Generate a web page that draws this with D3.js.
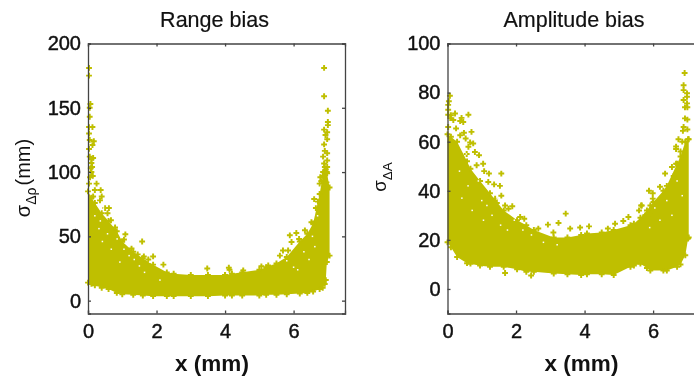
<!DOCTYPE html>
<html>
<head>
<meta charset="utf-8">
<script src="https://cdn.jsdelivr.net/npm/d3@7"></script>
<style>
  html, body { margin: 0; padding: 0; background: white; overflow: hidden; }
  svg { display: block; filter: blur(0.35px); }
  text { font-family: "Liberation Sans", Arial, sans-serif; fill: #111; }
</style>
</head>
<body>
<div id="chart"></div>
<script>
const xTicks = [0, 2, 4, 6];
const rangeTicks = [0, 50, 100, 150, 200];
const ampTicks = [0, 20, 40, 60, 80, 100];

//dense band of the left panel
const rangeBandX = [0, 0.1, 0.2, 0.4, 0.6, 0.84, 1, 1.32, 1.6, 1.9, 2.3, 2.5, 3, 3.5, 4, 4.2, 4.5, 5, 5.2, 5.5, 5.8, 6.18, 6.4, 6.57, 6.76, 6.85, 6.91, 6.94, 6.97, 7.05];
const rangeBandLow = [14, 13, 12, 10, 9, 6, 5, 4.5, 4, 3.5, 3.5, 3.5, 3.5, 3.5, 4, 4, 4, 4, 4.5, 4.5, 5, 5.5, 6, 7, 9, 10, 13, 16, 30, 35];
const rangeBandHigh = [85, 80, 76, 68, 62, 54, 46, 38, 33, 28, 22, 21, 20, 20, 20, 21, 22, 24, 26, 29, 34, 46, 52, 60, 83, 97, 104, 102, 100, 88];

//single points of the left panel
const rangeDotsX = [0.03, 0.03, 0.07, 0.05, 0.05, 0.03, 0.13, 0.03, 0.05, 0.17, 0.13, 0.03, 0.05, 0.15, 0.1, 0.1, 0.12, 0.08, 0.1, 0.14, 0.06,
  0.03, 0.25, 0.37, 0.2, 0.4, 0.15, 0.35, 0.5, 0.61, 0.57, 0.2, 0.67, 0.79, 1.09, 1.05, 1.58, 1.27, 1.9, 1.63, 1.76, 2.2, 3.48, 1.45,
  4.11, 4.13, 4, 4.53, 5.06, 5.26, 5.6, 5.69, 5.84, 5.89, 6.08, 5.94, 6.16, 6.33, 6.52, 6.6, 6.71, 6.65, 6.76, 6.91, 6.78,
  6.89, 6.89, 7, 7, 7, 6.89, 6.98, 6.93, 6.98, 6.89, 6.91, 6.98, 6.86, 6.98, 6.89, 6.98, 6.86, 6.98, 6.81, 6.96];
const rangeDotsY = [181, 175, 153, 150, 143, 135, 135, 130, 125, 124, 121, 118, 112, 111, 110, 107, 104, 103, 100, 97, 96,
  91, 91, 86, 86, 81, 81, 78, 72, 72, 68, 69, 62.5, 57, 51.6, 47.5, 46, 40.5, 34.4, 34.4, 32, 28, 25, 36,
  25.6, 24, 20, 23.5, 26.7, 27.4, 35, 39, 39, 50.8, 52.6, 45.6, 48, 54.7, 61, 79, 77, 72, 91, 100, 96,
  181, 159, 147.7, 139, 136.5, 133, 131, 128.8, 125.6, 121.5, 116.5, 114.7, 112, 109, 106.7, 104, 100, 99, 93, 92];

//white specks inside the left band
const rangeGapsX = [0.2, 0.32, 0.36, 0.42, 0.45, 0.57, 0.68, 0.75, 0.85, 0.93, 1.05, 1.2, 1.35, 1.5, 1.65, 1.8, 2.1, 5.8, 6.0, 6.12, 6.3, 6.45, 6.55, 6.62, 6.7];
const rangeGapsY = [66, 56, 62, 46, 72, 52, 40, 60, 48, 30, 40, 35, 32, 27, 22, 30, 16, 31, 26, 24, 38, 32, 50, 42, 66];

//dense band of the right panel
const ampBandX = [0, 0.1, 0.28, 0.57, 0.67, 0.95, 1.24, 1.64, 2.03, 2.3, 2.52, 3.1, 3.5, 3.9, 4.07, 4.5, 4.85, 5.34, 5.44, 5.63, 5.82, 5.92, 6.3, 6.4, 6.7, 6.8, 6.94, 7.02, 7.04];
const ampBandLow = [19, 17, 13, 10.5, 10.3, 9.5, 9, 9, 8, 7, 7, 6.3, 6, 5.7, 6, 6, 5.7, 9, 9.5, 10.3, 8.5, 7.5, 7.5, 7.5, 9, 10, 13.7, 20.5, 21];
const ampBandHigh = [63, 62, 60, 52, 49, 44, 39, 32, 28, 26, 24, 21, 21, 22, 22.6, 23, 24, 26, 26.6, 29, 32, 34, 40, 42, 51, 54, 60, 61, 61];

//single points of the right panel
const ampDotsX = [0.07, 0.04, 0.02, 0.02, 0.02, 0.22, 0.1, 0.61, 0.41, 0.37, 0.46, 0.17, 0.08, 0.02, 0.25, 0.7, 0.48, 0.37, 0.53, 0.75, 0.66, 0.61, 0.8, 0.92, 0.56, 1.04, 0.85, 1.07, 1.21, 1.57, 1.36, 1.53, 1.19, 1.57, 1.39, 1.44, 1.68, 1.89, 1.78,
  2.12, 2.24, 3.45, 2.93, 3.24, 3.58, 2.65, 3.09, 1.68, 2.44,
  4.13, 3.87, 4.68, 4.89, 5.13, 5.28, 5.65, 5.59, 5.77, 6.01, 6.35, 5.91,
  6.92, 6.89, 6.89, 6.99, 6.99, 6.89, 6.99, 6.93, 7, 6.93, 7, 6.89, 7, 6.87, 6.74, 6.67, 6.67, 6.85, 6.8, 6.55, 6.67, 6.35, 6.6, 5.88, 5.99, 6.2, 5.99, 5.67];
const ampDotsY = [78.7, 76.5, 75, 73, 71, 71.5, 70.8, 71, 69.7, 68.4, 68, 68.8, 69.6, 66, 65.4, 64, 63.6, 62.6, 61.3, 59.3, 59.7, 57.9, 55.8, 54.5, 55, 51, 50.4, 48, 47, 47, 42.6, 42, 43.6, 38, 36.8, 35, 34, 33.7, 32.7,
  29.3, 28.6, 30.7, 26.2, 26.9, 24.6, 24.6, 23, 6.5, 5.5,
  25.5, 25, 24.6, 26.6, 27.7, 29.3, 34, 32, 30, 35.4, 35.4, 30.7,
  88, 83, 81, 79.7, 78.3, 77, 75.6, 74, 74, 69.5, 69, 66, 65, 64.4, 61, 58, 57, 60, 56, 49.7, 51, 47, 46, 40, 39, 41.6, 36.8, 34];

//white specks inside the right band
const ampGapsX = [0.35, 0.42, 0.55, 0.6, 0.72, 0.8, 0.9, 1.0, 1.05, 1.15, 1.3, 1.45, 1.55, 1.75, 1.95, 2.2, 2.45, 2.8, 3.2, 5.9, 6.05, 6.2, 6.4, 6.55, 6.7, 6.85];
const ampGapsY = [48, 37, 55, 42, 32, 48, 44, 36, 28, 34, 30, 37, 26, 24, 28, 24, 22, 19, 18, 25, 33, 28, 36, 30, 44, 38];

const markColor = '#bfbf00';
const frameColor = '#444444';
const width = 694, height = 379;

const svg = d3.select('#chart').append('svg')
  .attr('width', width)
  .attr('height', height);

const plus = d3.symbol().type(d3.symbolCross).size(19);

//draws one panel, the second one runs past the window edge like in the original
function drawPanel(left, yMax, yTicks, bandX, bandLow, bandHigh, dotsX, dotsY, gapsX, gapsY, title, titleX, labelX) {
  const top = 43.5, bottom = 313.5, plotWidth = 257;

  const xScale = d3.scaleLinear().domain([0, 7.5]).range([left, left + plotWidth]);
  const yScale = d3.scaleLinear().domain([-10, yMax]).range([bottom, top]);

  const panel = svg.append('g');

  const band = d3.area()
    .x(i => xScale(bandX[i]))
    .y0(i => yScale(bandLow[i]))
    .y1(i => yScale(bandHigh[i]));

  panel.append('path')
    .attr('d', band(d3.range(bandX.length)))
    .attr('fill', markColor);

  //markers on the band outline make the edge rough
  const marks = d3.range(bandX.length).flatMap(i => [[bandX[i], bandLow[i]], [bandX[i], bandHigh[i]]])
    .concat(dotsX.map((d, i) => [d, dotsY[i]]));

  panel.selectAll('path.dot')
    .data(marks)
    .join('path')
    .attr('class', 'dot')
    .attr('d', plus)
    .attr('fill', markColor)
    .attr('transform', d => `translate(${xScale(d[0])},${yScale(d[1])})`);

  panel.selectAll('rect.gap')
    .data(gapsX.map((d, i) => [d, gapsY[i]]))
    .join('rect')
    .attr('class', 'gap')
    .attr('x', d => xScale(d[0]) - 0.75)
    .attr('y', d => yScale(d[1]) - 0.75)
    .attr('width', 1.5)
    .attr('height', 1.5)
    .attr('fill', 'white');

  //axes with inward ticks on all four sides
  const axes = [
    [d3.axisBottom(xScale).tickValues(xTicks).tickSize(-3).tickPadding(10), `translate(0,${bottom})`],
    [d3.axisTop(xScale).tickValues(xTicks).tickSize(-3).tickFormat(''), `translate(0,${top})`],
    [d3.axisLeft(yScale).tickValues(yTicks).tickSize(-3).tickPadding(7), `translate(${left},0)`],
    [d3.axisRight(yScale).tickValues(yTicks).tickSize(-3).tickFormat(''), `translate(${left + plotWidth},0)`]
  ];
  axes.forEach(([axis, position]) => {
    const g = panel.append('g').attr('transform', position).call(axis);
    g.selectAll('path, line').attr('stroke', frameColor).attr('stroke-width', 1.3);
    g.selectAll('text')
      .attr('font-size', 20)
      .attr('stroke', '#111')
      .attr('stroke-width', 0.45)
      .style('font-family', '"Liberation Sans", Arial, sans-serif');
  });

  panel.append('text')
    .attr('x', titleX)
    .attr('y', 27)
    .attr('text-anchor', 'middle')
    .attr('font-size', 21.5)
    .attr('stroke', '#111')
    .attr('stroke-width', 0.2)
    .text(title);

  panel.append('text')
    .attr('x', labelX)
    .attr('y', 371)
    .attr('text-anchor', 'middle')
    .attr('font-size', 22.5)
    .attr('font-weight', 'bold')
    .text('x (mm)');
}

drawPanel(88, 200, rangeTicks, rangeBandX, rangeBandLow, rangeBandHigh, rangeDotsX, rangeDotsY, rangeGapsX, rangeGapsY, 'Range bias', 214.5, 212);
drawPanel(447.5, 100, ampTicks, ampBandX, ampBandLow, ampBandHigh, ampDotsX, ampDotsY, ampGapsX, ampGapsY, 'Amplitude bias', 574, 581.5);

//y labels with subscripts
const rangeLabel = svg.append('text')
  .attr('transform', 'translate(30,178) rotate(-90)')
  .attr('text-anchor', 'middle')
  .attr('font-size', 20);
rangeLabel.append('tspan').text('σ');
rangeLabel.append('tspan').attr('dy', 6).attr('font-size', 14).text('Δρ');
rangeLabel.append('tspan').attr('dy', -6).attr('dx', 2).text('(mm)');

const ampLabel = svg.append('text')
  .attr('transform', 'translate(386,177) rotate(-90)')
  .attr('text-anchor', 'middle')
  .attr('font-size', 18.5);
ampLabel.append('tspan').text('σ');
ampLabel.append('tspan').attr('dy', 6).attr('font-size', 13.5).text('ΔA');
</script>
</body>
</html>
